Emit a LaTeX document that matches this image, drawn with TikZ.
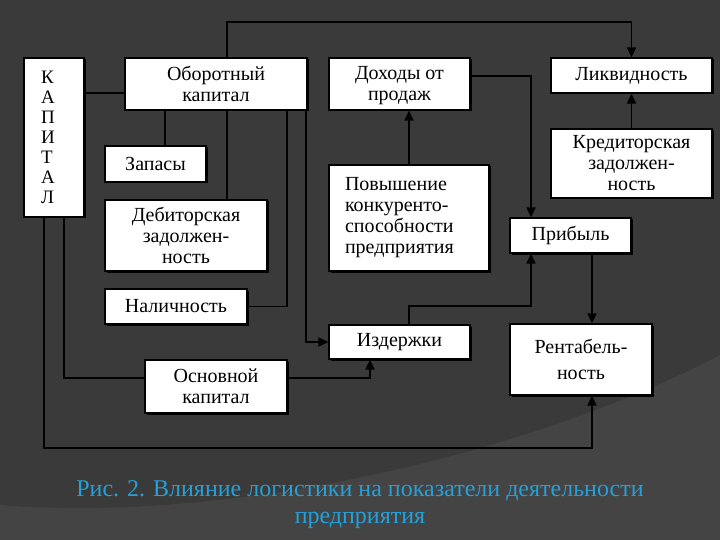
\documentclass[tikz,border=0pt]{standalone}
\usepackage{fontspec}
\setmainfont{Liberation Serif}
\usetikzlibrary{arrows.meta,shadows}
\definecolor{fondo}{HTML}{3A3A3A}
\definecolor{fondoclaro}{HTML}{444444}
\definecolor{pie}{HTML}{25A0D8}
\begin{document}
\begin{tikzpicture}[x=1pt,y=-1pt,every node/.style={font=\fontsize{20}{21}\selectfont,align=center,inner sep=0pt},bloque/.style={draw=black,fill=white,line width=1.2pt,drop shadow={shadow xshift=1.5pt,shadow yshift=-1.5pt,fill=black,opacity=1}},linea/.style={line width=1.8pt},flecha/.style={linea,-{Triangle[length=10pt,width=9pt]}}]
\fill[fondo] (0,0) rectangle (720,540);
\fill[fondoclaro] (0,540) -- (0,505) .. controls (260,525) and (560,440) .. (720,355) -- (720,540) -- cycle;
\useasboundingbox (0,0) rectangle (720,540);
\node[bloque,minimum width=60,minimum height=159,text width=26,align=left,font=\fontsize{19}{20}\selectfont] (kap) at (54,137.5) {К\\А\\П\\И\\Т\\А\\Л};
\node[bloque,minimum width=182,minimum height=52] (obor) at (216,84) {Оборотный\\капитал};
\node[bloque,minimum width=101,minimum height=36] (zap) at (155.5,164) {Запасы};
\node[bloque,minimum width=162,minimum height=71] (deb) at (186,235.5) {Дебиторская\\задолжен-\\ность};
\node[bloque,minimum width=142,minimum height=35] (nal) at (176,306.5) {Наличность};
\node[bloque,minimum width=142,minimum height=53] (osn) at (216,386.5) {Основной\\капитал};
\node[bloque,minimum width=141,minimum height=52,text depth=2pt] (doh) at (399.5,84) {Доходы от\\продаж};
\node[bloque,minimum width=161,minimum height=35] (likv) at (631.5,75.5) {Ликвидность};
\node[bloque,minimum width=161,minimum height=69] (kred) at (631.5,163.5) {Кредиторская\\задолжен-\\ность};
\node[bloque,minimum width=160,minimum height=106,text width=128,align=left] (pov) at (409,218) {Повышение\\конкуренто-\\способности\\предприятия};
\node[bloque,minimum width=121,minimum height=35] (prib) at (570.5,235.5) {Прибыль};
\node[bloque,minimum width=141,minimum height=34] (izd) at (399.5,342) {Издержки};
\node[bloque,minimum width=142,minimum height=71,font=\fontsize{20}{26}\selectfont] (rent) at (581,359.5) {Рентабель-\\ность};
\draw[linea] (kap.east |- 0,93) -- (obor.west |- 0,93);
\draw[flecha] (obor.north -| 227,0) -- (227,22) -| (likv.north);
\draw[linea] (obor.south -| 165,0) -- (zap.north -| 165,0);
\draw[linea] (obor.south -| 227,0) -- (deb.north -| 227,0);
\draw[linea] (obor.south -| 287,0) |- (nal.east);
\draw[flecha] (obor.south -| 306,0) |- (izd.west);
\draw[flecha] (doh.east |- 0,76) -| (prib.north -| 531,0);
\draw[flecha] (pov.north) -- (doh.south -| pov.north);
\draw[flecha] (kred) -- (likv);
\draw[flecha] (prib.south -| 592,0) -- (rent.north -| 592,0);
\draw[flecha] (izd.north -| 409,0) -- (409,306) -| (prib.south -| 531,0);
\draw[flecha] (osn.east |- 0,378) -| (izd.south -| 370,0);
\draw[linea] (kap.south -| 64,0) |- (osn.west |- 0,378);
\draw[flecha] (kap.south -| 44,0) -- (44,448) -| (rent.south -| 592,0);
\node[text=pie,font=\fontsize{24}{27}\selectfont] (pie) at (360,505) {Рис. 2. Влияние логистики на показатели деятельности\\предприятия};
\end{tikzpicture}
\end{document}
